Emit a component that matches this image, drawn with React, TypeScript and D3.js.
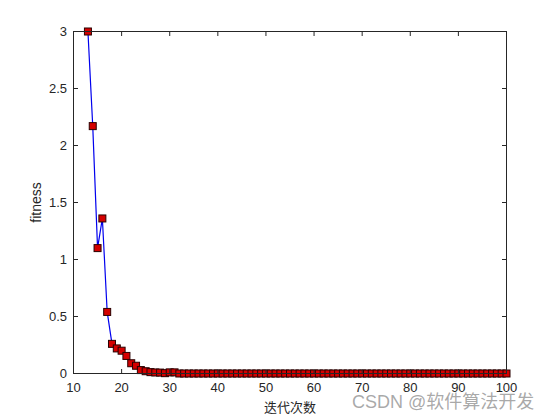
import React from "react";
import * as d3 from "d3";

const startIter = 13;
const fitness: number[] = [
  3.0, 2.17, 1.1, 1.36, 0.54, 0.26, 0.22, 0.2, 0.154, 0.09, 0.068, 0.03, 0.02, 0.012, 0.009, 0.008, 0.003, 0.01, 0.01,
  0, 0, 0, 0, 0, 0, 0, 0, 0, 0, 0, 0, 0, 0, 0, 0, 0, 0, 0, 0, 0, 0, 0, 0, 0, 0, 0, 0, 0, 0, 0,
  0, 0, 0, 0, 0, 0, 0, 0, 0, 0, 0, 0, 0, 0, 0, 0, 0, 0, 0, 0, 0, 0, 0, 0, 0, 0, 0, 0, 0, 0,
  0, 0, 0, 0, 0, 0, 0, 0,
];
const xTicks = [10, 20, 30, 40, 50, 60, 70, 80, 90, 100];
const yTicks = [0, 0.5, 1, 1.5, 2, 2.5, 3];
const xLabel = "迭代次数";
const yLabel = "fitness";
const watermark = "CSDN @软件算法开发";

export default function App() {
  const W = 560, H = 420;
  const L = 73.5, R = 506.5, T = 31.5, B = 373.5;
  const x = d3.scaleLinear().domain([10, 100]).range([L, R]);
  const y = d3.scaleLinear().domain([0, 3]).range([B, T]);
  const pts = fitness.map((v, i) => [startIter + i, v] as [number, number]);
  const line = d3.line<[number, number]>().x(d => x(d[0])).y(d => y(d[1]));
  const font = "Helvetica, Arial, 'Liberation Sans', sans-serif";
  const tc = "#262626";
  const tl = 4.5;
  return (
    <svg width={W} height={H} style={{ position: "absolute", left: 0, top: 0, background: "#fff" }}>
      <rect x={0} y={0} width={W} height={H} fill="#fff" />
      <path d={line(pts) || ""} fill="none" stroke="#0000ee" strokeWidth={1.2} />
      {pts.map((p, i) => (
        <rect key={i} x={x(p[0]) - 3.5} y={y(p[1]) - 3.5} width={7} height={7} fill="#d40000" stroke="#2a0000" strokeWidth={1} />
      ))}
      <rect x={L} y={T} width={R - L} height={B - T} fill="none" stroke={tc} strokeWidth={1} />
      {xTicks.map(t => (
        <g key={"x" + t}>
          <line x1={x(t)} x2={x(t)} y1={B} y2={B - tl} stroke={tc} />
          <line x1={x(t)} x2={x(t)} y1={T} y2={T + tl} stroke={tc} />
          <text x={x(t)} y={392} textAnchor="middle" fontFamily={font} fontSize={13} fill={tc}>{t}</text>
        </g>
      ))}
      {yTicks.map(t => (
        <g key={"y" + t}>
          <line x1={L} x2={L + tl} y1={y(t)} y2={y(t)} stroke={tc} />
          <line x1={R} x2={R - tl} y1={y(t)} y2={y(t)} stroke={tc} />
          <text x={67} y={y(t) + 4.5} textAnchor="end" fontFamily={font} fontSize={13} fill={tc}>{t}</text>
        </g>
      ))}
      <text x={290} y={412} textAnchor="middle" fontFamily="'Noto Sans CJK SC', sans-serif" fontSize={13} fill={tc}>{xLabel}</text>
      <text transform={`translate(41,${(T + B) / 2}) rotate(-90)`} textAnchor="middle" fontFamily={font} fontSize={14} fill={tc}>{yLabel}</text>
      <text x={352} y={408} fontFamily="Arial, 'Liberation Sans', 'Noto Sans CJK SC', sans-serif" fontSize={18} fill="#9a9a9a" fillOpacity={0.85}>{watermark}</text>
    </svg>
  );
}
